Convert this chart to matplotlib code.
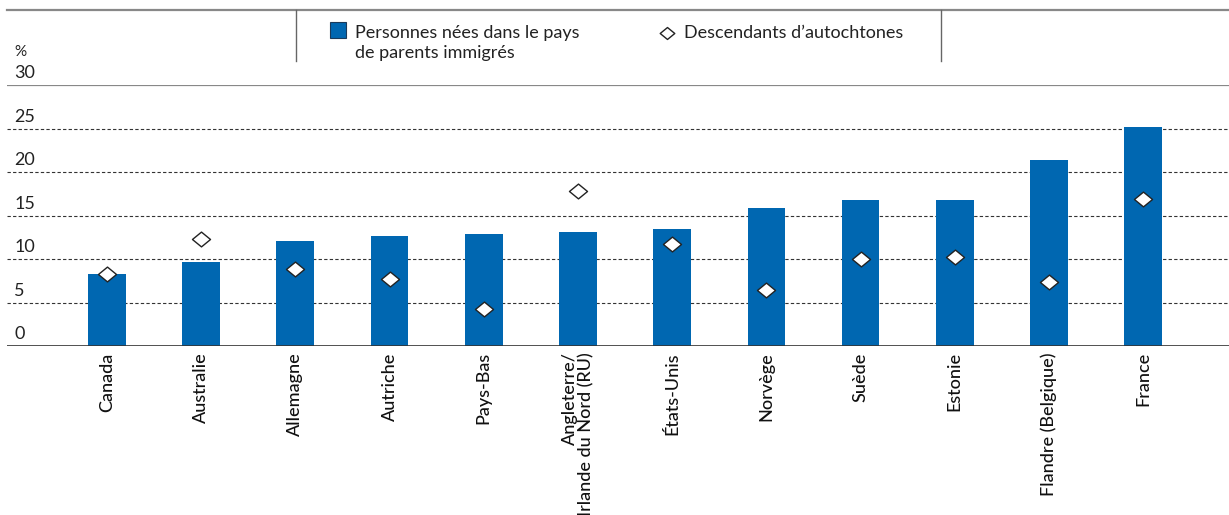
import matplotlib
matplotlib.use("Agg")
import matplotlib.pyplot as plt
from matplotlib.lines import Line2D
from matplotlib.patches import Rectangle
from matplotlib.path import Path

# Data
countries = ["Canada", "Australie", "Allemagne", "Autriche", "Pays-Bas",
             "Angleterre/\nIrlande du Nord (RU)", "États-Unis", "Norvège",
             "Suède", "Estonie", "Flandre (Belgique)", "France"]
born_immigrant_parents = [8.3, 9.7, 12.1, 12.6, 12.9, 13.1, 13.5, 15.9, 16.8, 16.8, 21.4, 25.2]
native_descendants = [8.3, 12.3, 8.8, 7.7, 4.2, 17.8, 11.7, 6.4, 10.0, 10.25, 7.4, 16.9]
yticks = [0, 5, 10, 15, 20, 25, 30]

BLUE = "#0067b1"
plt.rcParams['font.family'] = ['Lato', 'DejaVu Sans']

W, H = 1229, 515
fig = plt.figure(figsize=(W / 100, H / 100), dpi=100)

# axes in pixel terms: x 7..1229, y 85..346
ax = fig.add_axes([7 / W, (H - 346) / H, (W - 7) / W, (346 - 85) / H])
x = list(range(len(countries)))
ax.bar(x, born_immigrant_parents, width=0.40, color=BLUE, zorder=3)

diamond = Path([(-1, 0), (0, 0.82), (1, 0), (0, -0.82), (-1, 0)],
               [Path.MOVETO, Path.LINETO, Path.LINETO, Path.LINETO, Path.CLOSEPOLY])
ax.plot(x, native_descendants, linestyle="none", marker=diamond, markersize=13,
        markerfacecolor="white", markeredgecolor="#222222", markeredgewidth=1.0, zorder=4)

ax.set_xlim(-1.06, 11.91)
ax.set_ylim(0, 30)
for s in ax.spines.values():
    s.set_visible(False)
ax.tick_params(left=False, bottom=False, labelleft=False)

for v in yticks:
    if v == 0:
        ax.axhline(v, color="#333333", lw=1.2, zorder=5)
    elif v == 30:
        ax.axhline(v, color="#888888", lw=1.6, zorder=2)
    else:
        ax.axhline(v, color="#333333", lw=0.8, ls=(0, (3, 2)), zorder=1)
    ax.text(0.006, v + 0.45, str(v), transform=ax.get_yaxis_transform(),
            ha="left", va="bottom", fontsize=13, color="#222222")
ax.text(0.006, 33.0, "%", transform=ax.get_yaxis_transform(),
        ha="left", va="bottom", fontsize=11, color="#222222")

ax.set_xticks(x)
ax.set_xticklabels(countries, rotation=90, fontsize=13, color="#111111",
                   fontweight="medium", va="top", ha="center",
                   multialignment="right", linespacing=1.0)
ax.tick_params(axis="x", pad=1)

# Legend band at the top
def fy(py):
    return (H - py) / H

fig.add_artist(Line2D([7 / W, 1], [fy(10), fy(10)], color="#888888", lw=1.6))
for px in (296, 941):
    fig.add_artist(Line2D([px / W, px / W], [fy(10), fy(61)], color="#666666", lw=1.0))
fig.add_artist(Rectangle((330 / W, fy(38)), 16 / W, 16 / H, facecolor=BLUE,
                         edgecolor="#1a3a5a", lw=0.8, transform=fig.transFigure))
fig.text(355 / W, fy(43), "Personnes nées dans le pays\nde parents immigrés",
         fontsize=13, ha="left", va="center", color="#222222", linespacing=1.3)
fig.add_artist(Line2D([667 / W], [fy(33)], marker=diamond, markersize=10.5, linestyle="none",
                      markerfacecolor="white", markeredgecolor="#222222", markeredgewidth=1.0))
fig.text(684 / W, fy(33), "Descendants d\u2019autochtones", fontsize=13,
         ha="left", va="center", color="#222222")

fig.savefig("out.png", dpi=100)
